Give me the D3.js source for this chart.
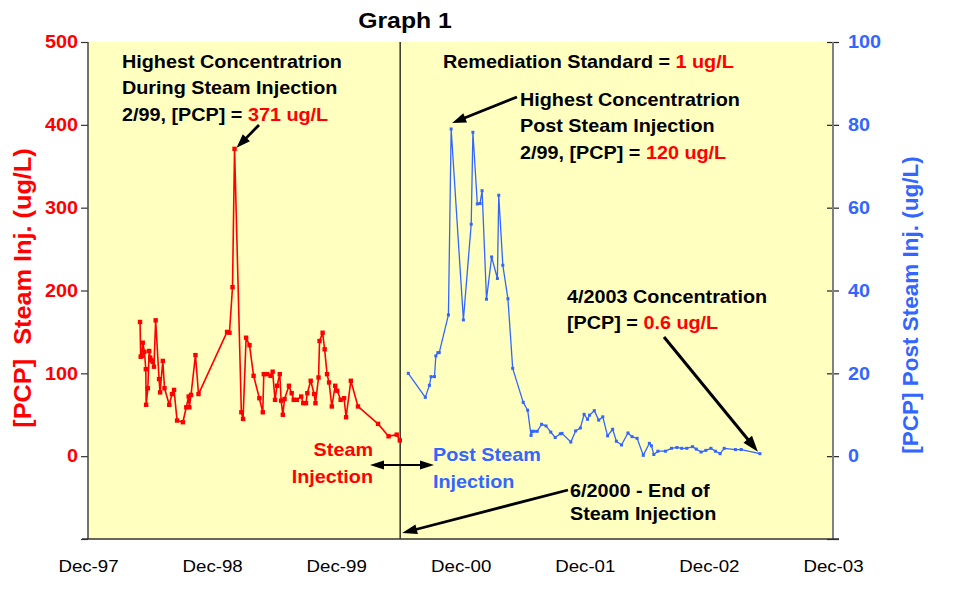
<!DOCTYPE html>
<html>
<head>
<meta charset="utf-8">
<script src="https://cdn.jsdelivr.net/npm/d3@7"></script>
<style>
  body { margin: 0; background: #fff; }
  svg { display: block; }
  text { font-family: "Liberation Sans", Arial, Helvetica, sans-serif; }
</style>
</head>
<body>
<svg id="chart" width="976" height="601"></svg>
<script>
// PCP concentrations during steam injection (ug/L, left axis)
const steamDates = ["1998-05-03","1998-05-05","1998-05-08","1998-05-11","1998-05-16","1998-05-20","1998-05-21","1998-05-26","1998-05-30","1998-06-02",
  "1998-06-05","1998-06-09","1998-06-13","1998-06-18","1998-06-28","1998-07-01","1998-07-09","1998-07-14","1998-07-28","1998-08-05",
  "1998-08-11","1998-08-20","1998-09-06","1998-09-16","1998-09-23","1998-09-25","1998-09-30","1998-10-13","1998-10-22","1999-01-14",
  "1999-01-21","1999-01-30","1999-02-05","1999-02-25","1999-03-02","1999-03-11","1999-03-21","1999-04-02","1999-04-19","1999-04-29",
  "1999-05-02","1999-05-12","1999-05-22","1999-05-28","1999-06-04","1999-06-10","1999-06-18","1999-06-22","1999-06-27","1999-07-02",
  "1999-07-15","1999-07-23","1999-07-29","1999-08-07","1999-08-20","1999-08-26","1999-09-03","1999-09-07","1999-09-17","1999-09-27",
  "1999-10-01","1999-10-10","1999-10-13","1999-10-22","1999-10-28","1999-11-04","1999-11-10","1999-11-18","1999-11-28","1999-12-04",
  "1999-12-14","1999-12-24","1999-12-30","2000-01-13","2000-02-03","2000-04-02","2000-05-03","2000-05-27","2000-06-05"];
const steamValues = [162,120,121,137,126,105,62,82,127,119,
  116,114,108,164,93,77,115,82,62,75,
  80,43,41,59,72,59,74,122,75,150,
  149,204,371,53,45,143,134,97,70,53,
  99,99,97,102,68,85,99,67,50,69,
  85,76,68,68,72,64,64,76,91,75,
  64,95,139,149,129,99,89,60,85,79,
  68,70,47,91,60,39,24,26,19];

// PCP concentrations after steam injection (ug/L, right axis)
const postDates = ["2000-06-30","2000-08-19","2000-08-31","2000-09-05","2000-09-15","2000-09-19","2000-09-25","2000-09-29","2000-10-26","2000-11-03",
  "2000-12-09","2001-01-01","2001-01-06","2001-01-19","2001-01-27","2001-02-02","2001-02-15","2001-03-02","2001-03-19","2001-03-23",
  "2001-04-04","2001-04-19","2001-05-03","2001-06-03","2001-06-16","2001-06-26","2001-06-30","2001-07-05","2001-07-14","2001-07-27",
  "2001-08-09","2001-08-23","2001-09-05","2001-09-20","2001-09-25","2001-10-21","2001-11-04","2001-11-18","2001-11-29","2001-12-09",
  "2001-12-15","2001-12-29","2002-01-11","2002-01-23","2002-02-06","2002-02-21","2002-03-04","2002-03-19","2002-04-07","2002-04-19",
  "2002-05-04","2002-05-22","2002-06-09","2002-06-15","2002-06-22","2002-07-04","2002-07-26","2002-08-13","2002-08-29","2002-09-12",
  "2002-09-27","2002-10-14","2002-10-25","2002-11-08","2002-11-22","2002-12-07","2002-12-20","2003-01-03","2003-01-15","2003-02-17",
  "2003-03-06","2003-04-30"];
const postValues = [20.0,14.2,17.1,19.2,19.2,24.2,25.0,25.0,34.1,79.0,
  32.9,56.0,78.2,60.9,61.0,64.1,37.9,48.1,42.9,63.0,
  46.1,38.0,21.2,13.0,11.1,5.0,6.0,6.0,6.0,7.7,
  7.3,5.8,4.5,5.4,5.5,3.4,6.1,6.8,10.1,8.9,
  9.9,11.0,8.7,9.5,4.9,6.5,3.6,2.7,5.6,4.7,
  4.3,0.2,3.1,2.5,0.4,1.2,1.2,1.9,2.1,1.9,
  1.9,2.3,1.7,1.0,1.4,1.9,1.2,0.6,1.9,1.6,
  1.6,0.6];

const xTickDates = ["1997-12-01","1998-12-01","1999-12-01","2000-12-01","2001-12-01","2002-12-01","2003-12-01"];
const leftTicks = [-100, 0, 100, 200, 300, 400, 500];
const rightTicks = [-20, 0, 20, 40, 60, 80, 100];
const steamEndDate = "2000-06-06";
const remediationStandard = 1;

const RED = "#ff0000", BLUE = "#3366ff", BG = "#ffffc0";
const SX = 1.1; // horizontal text stretch

const parse = d3.timeParse("%Y-%m-%d");
const steam = steamDates.map((d, i) => ({ date: parse(d), v: steamValues[i] }));
const post = postDates.map((d, i) => ({ date: parse(d), v: postValues[i] }));

const svg = d3.select("#chart");
const L = 88, R = 833, T = 42, B = 539;

const x = d3.scaleTime().domain([parse(xTickDates[0]), parse(xTickDates[xTickDates.length - 1])]).range([L, R]);
const yL = d3.scaleLinear().domain([-100, 500]).range([B, T]);
const yR = d3.scaleLinear().domain([-20, 100]).range([B, T]);

// plot area
svg.append("rect").attr("x", L).attr("y", T).attr("width", R - L).attr("height", B - T).attr("fill", BG);

// end-of-steam-injection marker
const xEnd = x(parse(steamEndDate));
svg.append("line").attr("x1", xEnd).attr("x2", xEnd).attr("y1", T).attr("y2", B)
  .attr("stroke", "#000").attr("stroke-width", 1.2);

function stretchTicks(g, size, color) {
  g.selectAll(".tick text").attr("fill", color).attr("font-size", size).attr("font-weight", "bold")
    .attr("font-family", "Liberation Sans, Arial, sans-serif")
    .attr("transform", function () {
      const tx = +d3.select(this).attr("x");
      return `translate(${tx},0) scale(${SX},1) translate(${-tx},0)`;
    });
}

// left axis
const gL = svg.append("g").attr("transform", `translate(${L},0)`)
  .call(d3.axisLeft(yL).tickValues(leftTicks).tickSize(7).tickPadding(3)
    .tickFormat(d => d < 0 ? "" : d));
gL.select(".domain").remove();
gL.append("line").attr("y1", T).attr("y2", B).attr("stroke", "#444").attr("stroke-width", 1.5);
gL.selectAll(".tick line").attr("stroke", "#333").attr("stroke-width", 1.2);
stretchTicks(gL, 18, RED);

// right axis
const gR = svg.append("g").attr("transform", `translate(${R},0)`)
  .call(d3.axisRight(yR).tickValues(rightTicks).tickSize(6).tickPadding(9)
    .tickFormat(d => d < 0 ? "" : d));
gR.select(".domain").remove();
gR.append("line").attr("y1", T).attr("y2", B).attr("stroke", "#808080").attr("stroke-width", 2);
gR.selectAll(".tick line").attr("x1", -6).attr("stroke", "#222").attr("stroke-width", 1.2);
stretchTicks(gR, 18, BLUE);

// bottom axis
const gB = svg.append("g").attr("transform", `translate(0,${B})`)
  .call(d3.axisBottom(x).tickValues(xTickDates.map(parse)).tickSize(0).tickPadding(21)
    .tickFormat(d3.timeFormat("%b-%y")));
gB.select(".domain").remove();
gB.append("line").attr("x1", L - 6).attr("x2", R + 6).attr("stroke", "#333").attr("stroke-width", 1.5);
gB.selectAll(".tick text").attr("fill", "#000").attr("font-size", 17)
  .attr("font-family", "Liberation Sans, Arial, sans-serif");
gB.selectAll(".tick").each(function () {
  const t = d3.select(this);
  const tx = +t.attr("transform").match(/translate\(([-\d.]+)/)[1];
  t.attr("transform", `translate(${tx},0) scale(${SX},1)`);
});

// series
const lineL = d3.line().x(d => x(d.date)).y(d => yL(d.v));
const lineR = d3.line().x(d => x(d.date)).y(d => yR(d.v));

svg.append("path").datum(steam).attr("d", lineL).attr("fill", "none")
  .attr("stroke", RED).attr("stroke-width", 1.6).attr("stroke-linejoin", "round");
svg.append("g").selectAll("rect").data(steam).join("rect")
  .attr("x", d => x(d.date) - 2.2).attr("y", d => yL(d.v) - 2.2)
  .attr("width", 4.4).attr("height", 4.4).attr("fill", RED);

svg.append("path").datum(post).attr("d", lineR).attr("fill", "none")
  .attr("stroke", BLUE).attr("stroke-width", 1.3).attr("stroke-linejoin", "round");
svg.append("g").selectAll("rect").data(post).join("rect")
  .attr("x", d => x(d.date) - 1.5).attr("y", d => yR(d.v) - 1.5)
  .attr("width", 3).attr("height", 3).attr("fill", BLUE);

// text helper: one line of coloured parts, stretched horizontally
function label(px, py, parts, size, anchor, weight) {
  const t = svg.append("text")
    .attr("transform", `translate(${px},${py}) scale(${SX},1)`)
    .attr("font-size", size).attr("font-weight", weight || "bold")
    .attr("text-anchor", anchor || "start").attr("dy", "0.36em");
  parts.forEach(p => t.append("tspan").attr("fill", p[1] || "#000").text(p[0]));
  return t;
}

// arrows with solid triangular heads
function arrow(x1, y1, x2, y2, w, hl, hw, both) {
  const dx = x2 - x1, dy = y2 - y1, len = Math.hypot(dx, dy);
  const ux = dx / len, uy = dy / len, nx = -uy, ny = ux;
  const head = (tx, ty, sx, sy) => {
    const bx = tx - sx * hl, by = ty - sy * hl;
    svg.append("polygon").attr("fill", "#000")
      .attr("points", [[tx, ty], [bx + nx * hw, by + ny * hw], [bx - nx * hw, by - ny * hw]].map(p => p.join(",")).join(" "));
  };
  const sx0 = both ? x1 + ux * hl * 0.8 : x1, sy0 = both ? y1 + uy * hl * 0.8 : y1;
  svg.append("line").attr("x1", sx0).attr("y1", sy0)
    .attr("x2", x2 - ux * hl * 0.8).attr("y2", y2 - uy * hl * 0.8)
    .attr("stroke", "#000").attr("stroke-width", w);
  head(x2, y2, ux, uy);
  if (both) head(x1, y1, -ux, -uy);
}

// title
label(405, 20, [["Graph 1"]], 22.5, "middle");

// axis titles
svg.append("text").attr("transform", `translate(23,288) rotate(-90) scale(1.1,1)`)
  .attr("text-anchor", "middle").attr("dy", "0.36em").attr("font-size", 23).attr("font-weight", "bold")
  .attr("fill", RED).attr("xml:space", "preserve").text("[PCP]  Steam Inj. (ug/L)");
svg.append("text").attr("transform", `translate(910,305) rotate(-90)`)
  .attr("text-anchor", "middle").attr("dy", "0.36em").attr("font-size", 22.5).attr("font-weight", "bold")
  .attr("fill", BLUE).text("[PCP] Post Steam Inj. (ug/L)");

const steamMax = steam.reduce((a, b) => (b.v > a.v ? b : a));
const postMax = post.reduce((a, b) => (b.v > a.v ? b : a));
const postLast = post[post.length - 1];

// annotations
const FS = 18;
label(122, 62, [["Highest Concentratrion"]], FS);
label(122, 88, [["During Steam Injection"]], FS);
label(122, 115, [["2/99, [PCP] = "], [`${steamMax.v} ug/L`, RED]], FS);
arrow(259, 125, x(steamMax.date) + 2, yL(steamMax.v) - 1, 2.8, 14, 5);

label(443, 62, [["Remediation Standard = "], [`${remediationStandard} ug/L`, RED]], FS);

label(520, 100, [["Highest Concentratrion"]], FS);
label(520, 126, [["Post Steam Injection"]], FS);
label(520, 153, [["2/99, [PCP] = "], ["120 ug/L", RED]], FS);
arrow(517, 97, x(postMax.date) + 1, yR(postMax.v) - 6, 2.8, 14, 5);

label(567, 297, [["4/2003 Concentration"]], FS);
label(567, 323, [["[PCP] = "], [`${postLast.v} ug/L`, RED]], FS);
arrow(664, 337, x(postLast.date) - 2, yR(postLast.v) - 2, 3, 16, 5.5);

label(373, 450, [["Steam", RED]], FS, "end");
label(373, 477, [["Injection", RED]], FS, "end");
label(433, 455, [["Post Steam", BLUE]], FS);
label(433, 482, [["Injection", BLUE]], FS);
arrow(370, 465, 434, 465, 2, 14, 4.5, true);

label(570, 491, [["6/2000 - End of"]], FS);
label(570, 514, [["Steam Injection"]], FS);
arrow(568, 490, xEnd + 2, 533, 2.8, 15, 5);
</script>
</body>
</html>
